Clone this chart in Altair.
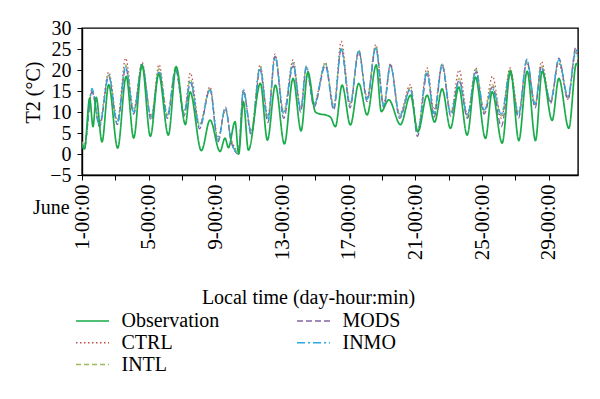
import altair as alt
import pandas as pd

# ---- data (days since June 1 00:00, temperature in deg C) ----
obs_t = [0.0, 0.15, 0.46, 0.66, 0.85, 1.2, 1.6, 2.14, 2.65, 3.1, 3.6, 4.1, 4.6, 5.18, 5.65,
         6.2, 6.48, 7.16, 7.68, 8.28, 8.58, 8.78, 9.18, 9.4, 9.68, 9.98, 10.7, 11.12, 11.6, 12.14,
         12.66, 13.14, 13.55, 14.0, 14.3, 14.6, 14.9, 15.2, 15.6, 16.1, 16.6, 17.1, 17.65, 17.95, 18.4,
         19.1, 19.7, 20.15, 20.7, 21.15, 21.6, 22.1, 22.6, 23.1, 23.6, 24.2, 24.6, 25.2, 25.7, 26.2,
         26.7, 27.2, 27.6, 28.2, 28.6, 29.2, 29.65, 29.75]
obs_v = [2.5, 1.2, 13.3, 6.5, 13.5, 2.9, 16.5, 1.4, 18.5, 3.8, 21.2, 4.2, 19.0, 4.5, 20.8,
         7.0, 14.8, 0.8, 8.1, 0.6, 3.8, 1.5, 7.7, 0.0, 12.5, 0.9, 16.8, 3.3, 16.4, 2.4,
         18.0, 5.5, 19.5, 10.0, 9.5, 9.3, 8.8, 6.5, 16.4, 6.9, 16.8, 9.3, 21.2, 10.1, 12.9,
         7.0, 14.0, 5.3, 14.0, 7.6, 15.5, 6.1, 15.9, 4.5, 18.3, 3.7, 14.8, 2.6, 19.8, 3.2,
         19.7, 3.2, 19.7, 8.0, 18.0, 6.1, 21.5, 21.0]

model_t = [0.0, 0.12, 0.6, 1.05, 1.6, 2.12, 2.62, 3.1, 3.6, 4.15, 4.62, 5.12, 5.62, 6.12, 6.5,
           7.05, 7.68, 8.15, 8.6, 8.95, 9.38, 9.68, 10.15, 10.68, 11.15, 11.58, 12.1, 12.66, 13.12, 13.45,
           13.92, 14.6, 15.1, 15.55, 16.08, 16.6, 17.1, 17.62, 18.1, 18.5, 19.05, 19.7, 20.12, 20.7, 21.12,
           21.6, 22.12, 22.62, 23.12, 23.62, 24.12, 24.62, 25.15, 25.68, 26.18, 26.68, 27.18, 27.55, 28.1, 28.6,
           29.15, 29.62, 29.75]
ctrl_v = [3.0, 1.8, 15.0, 7.5, 19.5, 8.0, 22.8, 10.5, 21.8, 9.0, 21.3, 9.5, 20.0, 10.0, 19.3,
          7.0, 16.0, 3.8, 10.5, 3.5, 0.8, 14.8, 5.5, 21.2, 9.0, 23.8, 10.0, 22.4, 11.0, 20.5,
          12.0, 21.8, 11.5, 26.8, 12.0, 24.0, 13.5, 26.0, 12.0, 21.5, 9.5, 16.5, 5.5, 20.5, 10.5,
          21.5, 10.0, 20.0, 9.5, 20.5, 10.0, 18.5, 8.5, 20.5, 9.8, 21.8, 11.5, 22.0, 12.5, 21.5,
          13.0, 24.0, 23.5]
intl_v = [2.8, 1.5, 15.2, 7.0, 19.0, 7.8, 21.2, 10.3, 21.0, 8.8, 20.3, 9.2, 20.8, 9.8, 17.8,
          6.8, 15.5, 3.3, 10.6, 3.2, 0.4, 15.0, 5.3, 20.9, 8.5, 23.3, 9.8, 21.8, 10.8, 20.8,
          11.9, 21.6, 11.2, 25.5, 11.9, 24.8, 13.2, 25.8, 11.8, 21.2, 9.3, 15.8, 5.3, 19.9, 9.8,
          21.4, 9.8, 18.0, 9.0, 20.2, 10.2, 16.5, 9.0, 20.0, 9.5, 22.0, 11.7, 21.0, 12.5, 22.0,
          13.5, 24.5, 22.5]
mods_v = [2.5, 1.0, 14.8, 6.5, 18.5, 7.0, 20.5, 9.5, 21.0, 8.0, 19.5, 8.5, 20.0, 9.0, 17.0,
          6.0, 15.4, 2.8, 11.2, 2.8, 0.0, 15.2, 4.5, 20.0, 7.5, 23.2, 8.5, 21.0, 10.0, 20.5,
          11.2, 21.0, 10.5, 25.0, 11.0, 24.6, 12.5, 25.2, 11.0, 21.2, 8.5, 15.6, 4.2, 19.0, 8.8,
          21.0, 9.0, 17.6, 8.5, 19.5, 9.5, 16.0, 6.5, 19.0, 8.5, 22.4, 11.0, 20.8, 12.0, 22.8,
          13.0, 25.4, 24.0]
inmo_v = [2.6, 1.3, 15.6, 6.8, 18.8, 7.3, 20.8, 10.0, 21.4, 8.5, 19.8, 8.9, 20.4, 9.7, 17.4,
          6.5, 15.2, 3.0, 10.9, 3.0, 0.1, 15.4, 5.0, 20.6, 8.1, 23.0, 9.5, 21.5, 10.5, 21.0,
          11.7, 21.4, 10.9, 25.0, 11.7, 24.4, 13.0, 25.4, 11.5, 21.0, 9.0, 15.4, 5.0, 19.6, 9.5,
          21.2, 9.5, 17.2, 9.2, 19.8, 10.5, 15.5, 9.5, 19.6, 9.2, 22.6, 11.9, 20.4, 12.7, 22.4,
          13.8, 24.8, 23.0]

legend_order = ["Observation", "CTRL", "INTL", "MODS", "INMO"]
colors = ["#1aab4a", "#c0504d", "#9bbb59", "#8064a2", "#2aa9e0"]
dashes = [[1, 0], [1.5, 2.5], [5, 3], [6, 3], [8, 3, 2, 3]]
x_ticks = list(range(0, 30, 2))
y_ticks = list(range(-5, 31, 5))

# ---- tables ----
model_rows = []
for name, vals in [("CTRL", ctrl_v), ("INTL", intl_v), ("MODS", mods_v), ("INMO", inmo_v)]:
    for t, v in zip(model_t, vals):
        model_rows.append({"t": t, "v": v, "series": name})
models_df = pd.DataFrame(model_rows)
obs_df = pd.DataFrame({"t": obs_t, "v": obs_v, "series": ["Observation"] * len(obs_t)})

FONT = "Liberation Serif"

x_enc = alt.X(
    "t:Q",
    scale=alt.Scale(domain=[0, 29.75], nice=False, zero=False),
    axis=alt.Axis(
        values=x_ticks,
        labelExpr="datum.value % 4 == 0 ? format(datum.value + 1, 'd') + '-00:00' : ''",
        labelAngle=-90,
        labelAlign="right",
        labelBaseline="middle",
        labelPadding=4,
        labelOverlap=False,
        labelFontSize=21,
        tickSize=5,
        title="Local time (day-hour:min)",
        titleX=226,
        titleY=122,
        titleBaseline="middle",
        titleAlign="center",
    ),
)
y_enc = alt.Y(
    "v:Q",
    scale=alt.Scale(domain=[-5, 30], nice=False, zero=False),
    axis=alt.Axis(
        values=y_ticks,
        tickSize=5,
        labelPadding=6,
        title="T2 (°C)",
        titleX=-49,
        titleY=64,
        titleBaseline="middle",
        titleAlign="center",
    ),
)
color_enc = alt.Color("series:N", scale=alt.Scale(domain=legend_order, range=colors), title=None)
dash_enc = alt.StrokeDash("series:N", scale=alt.Scale(domain=legend_order, range=dashes), title=None)

models = alt.Chart(models_df).mark_line(interpolate="monotone", strokeWidth=1.3, clip=True).encode(
    x=x_enc, y=y_enc, color=color_enc, strokeDash=dash_enc
)
obs = alt.Chart(obs_df).mark_line(interpolate="monotone", strokeWidth=1.7, clip=True).encode(
    x=x_enc, y=y_enc, color=color_enc, strokeDash=dash_enc
)
june = alt.Chart(pd.DataFrame({"label": ["June"]})).mark_text(
    align="left", baseline="alphabetic", font=FONT, fontSize=20, color="black"
).encode(text="label:N", x=alt.value(-49), y=alt.value(186))

chart = (
    alt.layer(models, obs, june)
    .properties(
        width=496,
        height=147,
        padding={"left": 74, "top": 20, "right": 14, "bottom": 216},
        autosize=alt.AutoSizeParams(type="none"),
        background="white",
    )
    .configure_view(stroke="black", strokeWidth=1.4)
    .configure_axis(
        grid=False,
        domainColor="black",
        tickColor="black",
        labelColor="black",
        titleColor="black",
        labelFont=FONT,
        titleFont=FONT,
        labelFontSize=20,
        titleFontSize=20,
        titleFontWeight="normal",
        domainWidth=1.4,
    )
    .configure_legend(
        orient="none",
        legendX=0.5,
        legendY=283,
        direction="vertical",
        columns=2,
        columnPadding=74,
        rowPadding=1.8,
        padding=0,
        symbolType="M-3.3,0L3.3,0",
        symbolSize=100,
        symbolStrokeWidth=1.5,
        labelFont=FONT,
        labelFontSize=20,
        labelColor="black",
        labelOffset=19,
        labelLimit=300,
    )
)

chart.save("out.html", embed_options={"renderer": "svg", "actions": False})
